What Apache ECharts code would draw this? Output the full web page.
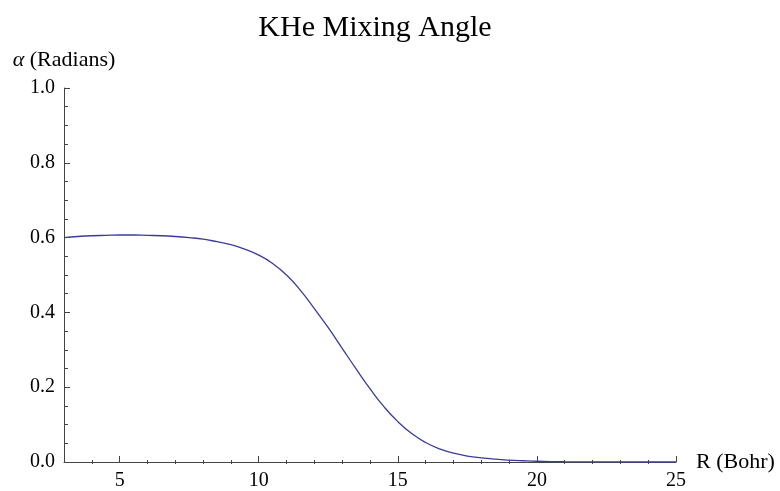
<!DOCTYPE html>
<html>
<head>
<meta charset="utf-8">
<script src="https://cdn.jsdelivr.net/npm/echarts@6/dist/echarts.min.js"></script>
<style>html,body{margin:0;padding:0;background:#fff}#c{width:780px;height:491px}</style>
</head>
<body>
<div id="c"></div>
<script>
const rValues = [3, 3.5, 4, 4.5, 5, 5.5, 6, 6.5, 7, 7.5, 8, 8.5, 9, 9.5, 10, 10.5, 11, 11.5, 12, 12.5, 13, 13.5, 14, 14.5, 15, 15.5, 16, 16.5, 17, 17.5, 18, 18.5, 19, 19.5, 20, 21, 22, 23, 24, 25];
const alphaValues = [0.600, 0.603, 0.605, 0.606, 0.607, 0.607, 0.606, 0.605, 0.603, 0.600, 0.596, 0.589, 0.581, 0.569, 0.553, 0.531, 0.500, 0.459, 0.410, 0.359, 0.304, 0.249, 0.196, 0.148, 0.108, 0.076, 0.052, 0.035, 0.024, 0.016, 0.011, 0.0075, 0.005, 0.0033, 0.002, 0.0008, 0.0003, 0.0001, 0.00005, 0];
const xMajorTicks = [5, 10, 15, 20, 25];
const xMinorTicks = [4, 6, 7, 8, 9, 11, 12, 13, 14, 16, 17, 18, 19, 21, 22, 23, 24];
const yTicks = [0, 0.2, 0.4, 0.6, 0.8, 1.0];

const FONT = '"Liberation Serif", "Times New Roman", serif';
const axisColor = '#444';
const gridRect = {left: 64, right: 104, top: 88, bottom: 27};

const chart = echarts.init(document.getElementById('c'), null, {renderer: 'canvas'});
chart.setOption({
  animation: false,
  backgroundColor: '#fff',
  title: {
    text: 'KHe Mixing Angle',
    left: 370, top: 8, textAlign: 'center',
    textStyle: {fontFamily: FONT, fontSize: 30, fontWeight: 'normal', color: '#000'}
  },
  grid: [Object.assign({}, gridRect), Object.assign({}, gridRect)],
  xAxis: [{
    type: 'value', gridIndex: 0, min: 3, max: 25, interval: 1,
    name: 'R (Bohr)', nameLocation: 'end', nameGap: 20,
    nameTextStyle: {fontFamily: FONT, fontSize: 22, color: '#000', padding: [0, 0, 5, 0]},
    axisLine: {show: true, onZero: false, lineStyle: {color: axisColor, width: 1}},
    axisTick: {show: true, inside: true, length: 6, customValues: xMajorTicks, lineStyle: {color: axisColor}},
    axisLabel: {show: true, customValues: xMajorTicks, margin: 9, fontFamily: FONT, fontSize: 20, color: '#000'},
    splitLine: {show: false}
  }, {
    type: 'value', gridIndex: 1, min: 3, max: 25, interval: 1,
    axisLine: {show: false},
    axisTick: {show: true, inside: true, length: 4, customValues: xMinorTicks, lineStyle: {color: axisColor}},
    axisLabel: {show: false},
    splitLine: {show: false}
  }],
  yAxis: [{
    type: 'value', gridIndex: 0, min: 0, max: 1, interval: 0.2,
    name: '{i|α} (Radians)', nameLocation: 'end', nameGap: 17,
    nameTextStyle: {fontFamily: FONT, fontSize: 22, color: '#000', align: 'center',
      rich: {i: {fontFamily: FONT, fontSize: 22, fontStyle: 'italic', color: '#000'}}},
    axisLine: {show: true, onZero: false, lineStyle: {color: axisColor, width: 1}},
    axisTick: {show: true, inside: true, length: 6, lineStyle: {color: axisColor}},
    minorTick: {show: true, splitNumber: 4, length: 4, lineStyle: {color: axisColor}},
    axisLabel: {show: true, margin: 9, fontFamily: FONT, fontSize: 20, color: '#000',
      customValues: yTicks, formatter: v => v.toFixed(1)},
    splitLine: {show: false}
  }, {
    type: 'value', gridIndex: 1, min: 0, max: 1, show: false
  }],
  series: [{
    type: 'line', xAxisIndex: 0, yAxisIndex: 0,
    data: rValues.map((r, i) => [r, alphaValues[i]]),
    smooth: 0.5, showSymbol: false, symbol: 'none',
    lineStyle: {color: '#3b3b9c', width: 1.3},
    clip: true
  }]
});
</script>
</body>
</html>
